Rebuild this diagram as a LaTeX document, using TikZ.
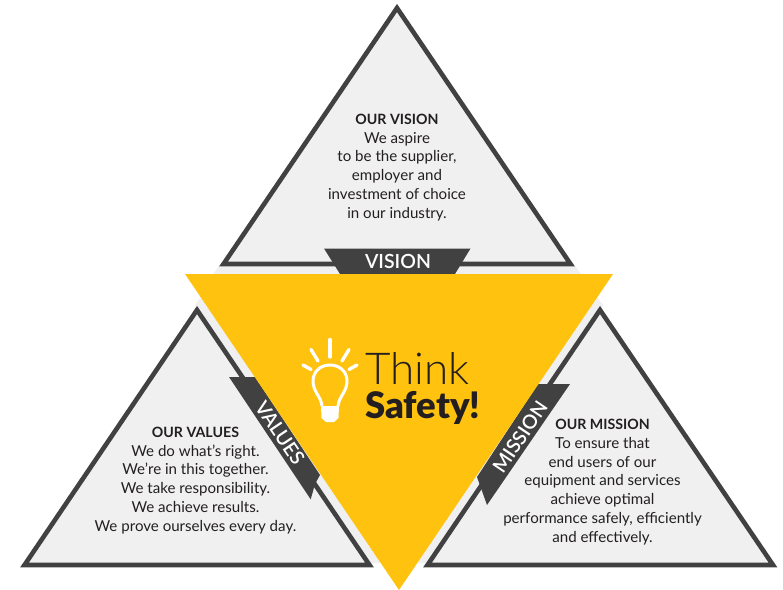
\documentclass[tikz,border=0pt]{standalone}
\usepackage{fontspec}
\setmainfont{Lato}
\newfontfamily\lightf{Lato Light}
\newfontfamily\blackf{Lato Black}
\newfontfamily\semif{Lato Semibold}
\newcommand{\headf}{\bfseries\fontsize{14.2}{18.85}\selectfont}
\definecolor{dk}{HTML}{414141}
\definecolor{fillg}{HTML}{F0F0F0}
\definecolor{yel}{HTML}{FFC20E}
\definecolor{txt}{HTML}{231F20}
\tikzset{
  tri/.style={draw=dk,fill=fillg,line width=4.6pt,miter limit=10,line join=miter},
  banner/.style={fill=dk,draw=none},
  bantxt/.style={text=white,font=\semif\fontsize{19.5}{19.5}\selectfont,inner sep=0pt},
  body/.style={text=txt,font=\fontsize{15.1}{18.85}\selectfont,align=center,inner sep=0pt},
  ray/.style={draw=white,line width=3.4pt,line cap=round},
}
\begin{document}
\begin{tikzpicture}[x=1pt,y=-1pt]
\useasboundingbox (0,0) rectangle (783,589);
% halo
\fill[fillg] (219,266) -- (575,266) -- (581,274) -- (213,274) -- cycle;
\fill[fillg] (201,297) -- (195,305) -- (366,563) -- (385,563) -- cycle;
\fill[fillg] (597,297) -- (603,305) -- (432,563) -- (413,563) -- cycle;
% outer triangles
\draw[tri] (397,8) -- (570.5,264) -- (223.5,264) -- cycle;
\draw[tri] (197,310) -- (369.5,565) -- (24.5,565) -- cycle;
\draw[tri] (600,310) -- (773,565) -- (427.5,565) -- cycle;
% banners
\fill[banner] (324,248.5) -- (470.5,248.5) -- (455,274) -- (340,274) -- cycle;
\fill[banner] (229,377) -- (255,377) -- (320,475) -- (315,484) -- (310.7,499.3) -- cycle;
\fill[banner] (570,384) -- (538,384) -- (477,477) -- (482,491) -- (487,505) -- cycle;
% centre
\path[fill=yel] (185,274) -- (613,274) -- (399,590) -- cycle;
% banner labels
\node[bantxt] (vlabel) at (398,261.5) {VISION};
\node[bantxt,rotate=56] (mlabel) at (520,437) {MISSION};
\node[bantxt,rotate=-56] (alabel) at (280,433) {VALUES};
% texts
\node[body] (vision) at (397,167.5) {{\headf OUR VISION}\\We aspire\\to be the supplier,\\employer and\\investment of choice\\in our industry.};
\node[body] (values) at (195.5,480.5) {{\headf OUR VALUES}\\We do what’s right.\\We’re in this together.\\We take responsibility.\\We achieve results.\\We prove ourselves every day.};
\node[body] (mission) at (602.5,482) {{\headf OUR MISSION}\\To ensure that\\end users of our\\equipment and services\\achieve optimal\\performance safely, efficiently\\and effectively.};
% logo
\node[anchor=base west,text=txt,font=\lightf\fontsize{44}{44}\selectfont,inner sep=0pt] (think) at (365,384) {Think};
\node[anchor=base west,text=txt,font=\blackf\fontsize{36.5}{36.5}\selectfont,inner sep=0pt] (safety) at (365,418) {Safety!};
% bulb
\draw[ray] (330,339.5) -- (330,357);
\draw[ray] (311,349.5) -- (318,361);
\draw[ray] (349,349.5) -- (342,361);
\draw[ray] (303,365) -- (311,369.5);
\draw[ray] (357,365) -- (349,369.5);
\draw[draw=white,line width=3pt,line join=round] (322,406)
  .. controls (321,396) and (313,392) .. (313,381)
  .. controls (313,371) and (321,365) .. (330,365)
  .. controls (339,365) and (347,371) .. (347,381)
  .. controls (347,392) and (339,396) .. (338,406);
\fill[white] (321,406) -- (339,406) -- (338.5,418) -- (334,422) -- (326,422) -- (321.5,418) -- cycle;
\end{tikzpicture}
\end{document}
